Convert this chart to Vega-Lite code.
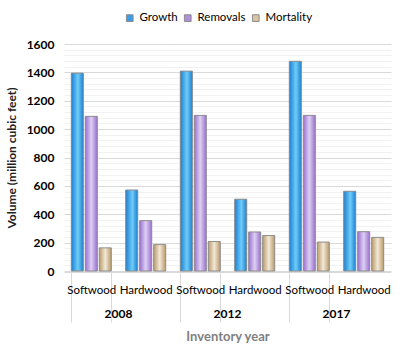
{
  "$schema": "https://vega.github.io/schema/vega-lite/v6.json",
  "background": "white",
  "padding": {"left": 5, "top": 12, "right": 8, "bottom": 5},
  "data": {"values": [
    {"year": "2008", "wood": "Softwood", "measure": "Growth", "value": 1395},
    {"year": "2008", "wood": "Softwood", "measure": "Removals", "value": 1090},
    {"year": "2008", "wood": "Softwood", "measure": "Mortality", "value": 163},
    {"year": "2008", "wood": "Hardwood", "measure": "Growth", "value": 571},
    {"year": "2008", "wood": "Hardwood", "measure": "Removals", "value": 355},
    {"year": "2008", "wood": "Hardwood", "measure": "Mortality", "value": 186},
    {"year": "2012", "wood": "Softwood", "measure": "Growth", "value": 1409},
    {"year": "2012", "wood": "Softwood", "measure": "Removals", "value": 1097},
    {"year": "2012", "wood": "Softwood", "measure": "Mortality", "value": 208},
    {"year": "2012", "wood": "Hardwood", "measure": "Growth", "value": 506},
    {"year": "2012", "wood": "Hardwood", "measure": "Removals", "value": 275},
    {"year": "2012", "wood": "Hardwood", "measure": "Mortality", "value": 250},
    {"year": "2017", "wood": "Softwood", "measure": "Growth", "value": 1478},
    {"year": "2017", "wood": "Softwood", "measure": "Removals", "value": 1097},
    {"year": "2017", "wood": "Softwood", "measure": "Mortality", "value": 204},
    {"year": "2017", "wood": "Hardwood", "measure": "Growth", "value": 562},
    {"year": "2017", "wood": "Hardwood", "measure": "Removals", "value": 277},
    {"year": "2017", "wood": "Hardwood", "measure": "Mortality", "value": 237}
  ]},
  "facet": {
    "column": {
      "field": "year", "type": "ordinal",
      "header": {
        "labelOrient": "bottom", "titleOrient": "bottom", "title": "Inventory year",
        "labelFont": "Lato", "labelFontSize": 12, "labelFontWeight": "bold", "labelColor": "#000000",
        "labelPadding": -14,
        "titleFont": "Lato", "titleFontSize": 13, "titleFontWeight": "bold", "titleColor": "#7f7f7f",
        "titlePadding": -2
      }
    }
  },
  "spacing": 0,
  "spec": {
    "width": 109,
    "height": 227,
    "encoding": {
      "x": {
        "field": "wood", "type": "nominal", "sort": ["Softwood", "Hardwood"], "title": null,
        "scale": {"paddingInner": 0.265, "paddingOuter": 0.134},
        "axis": {
          "labelAngle": 0, "labelFont": "Lato", "labelFontSize": 11.5, "labelColor": "#000000",
          "domainColor": "#d9d9d9", "tickBand": "extent", "tickSize": 50,
          "tickColor": {"condition": {"test": "datum.value === 'Hardwood'", "value": "rgba(0,0,0,0)"}, "value": "#d9d9d9"},
          "labelPadding": -38, "maxExtent": 28
        }
      },
      "xOffset": {"field": "measure", "type": "nominal", "sort": ["Growth", "Removals", "Mortality"], "scale": {"paddingInner": 0.14}},
      "y": {
        "field": "value", "type": "quantitative",
        "scale": {"domain": [0, 1600], "nice": false},
        "axis": {
          "values": [0, 40, 80, 120, 160, 200, 240, 280, 320, 360, 400, 440, 480, 520, 560, 600, 640, 680, 720, 760, 800, 840, 880, 920, 960, 1000, 1040, 1080, 1120, 1160, 1200, 1240, 1280, 1320, 1360, 1400, 1440, 1480, 1520, 1560, 1600],
          "format": "d",
          "labelExpr": "datum.value % 200 === 0 ? datum.label : ''",
          "gridColor": {"condition": {"test": "datum.value % 200 === 0", "value": "#d9d9d9"}, "value": "#f1f1f1"},
          "domain": false, "ticks": false,
          "title": "Volume (million cubic feet)",
          "titleFont": "Lato", "titleFontSize": 12, "titleFontWeight": "bold", "titleColor": "#222222",
          "labelFont": "Lato", "labelFontSize": 12, "labelFontWeight": "bold", "labelColor": "#000000",
          "labelPadding": 10, "titlePadding": 8
        }
      }
    },
    "layer": [
      {
        "mark": {"type": "bar", "stroke": null},
        "encoding": {
          "color": {
            "field": "measure", "type": "nominal", "sort": ["Growth", "Removals", "Mortality"],
            "scale": {"domain": ["Growth", "Removals", "Mortality"], "range": ["#3a9ee8", "#b08fdc", "#d8c4a2"]},
            "legend": {
              "title": " ", "titleOrient": "left", "titlePadding": 60, "offset": 14,
              "orient": "top", "direction": "horizontal",
              "symbolType": "square", "symbolSize": 45, "symbolStrokeColor": "#8c8c8c", "symbolStrokeWidth": 1,
              "labelFont": "Lato", "labelFontSize": 11.5, "labelColor": "#000000", "labelOffset": 4, "columnPadding": 4
            }
          }
        }
      },
      {
        "mark": {"type": "bar", "stroke": "#8f8f8f", "strokeWidth": 1},
        "encoding": {
          "fill": {
            "condition": [
              {"test": "datum.measure === 'Growth'", "value": {"gradient": "linear", "x1": 0, "y1": 0, "x2": 1, "y2": 0, "stops": [{"offset": 0, "color": "#1b7fd6"}, {"offset": 0.55, "color": "#6fcdf7"}, {"offset": 1, "color": "#1b7fd6"}]}},
              {"test": "datum.measure === 'Removals'", "value": {"gradient": "linear", "x1": 0, "y1": 0, "x2": 1, "y2": 0, "stops": [{"offset": 0, "color": "#9a6fd3"}, {"offset": 0.5, "color": "#ddd0f0"}, {"offset": 1, "color": "#9a6fd3"}]}}
            ],
            "value": {"gradient": "linear", "x1": 0, "y1": 0, "x2": 1, "y2": 0, "stops": [{"offset": 0, "color": "#b89a68"}, {"offset": 0.5, "color": "#f3e8d8"}, {"offset": 1, "color": "#b89a68"}]}
          }
        }
      }
    ]
  },
  "config": {"view": {"stroke": null}}
}
